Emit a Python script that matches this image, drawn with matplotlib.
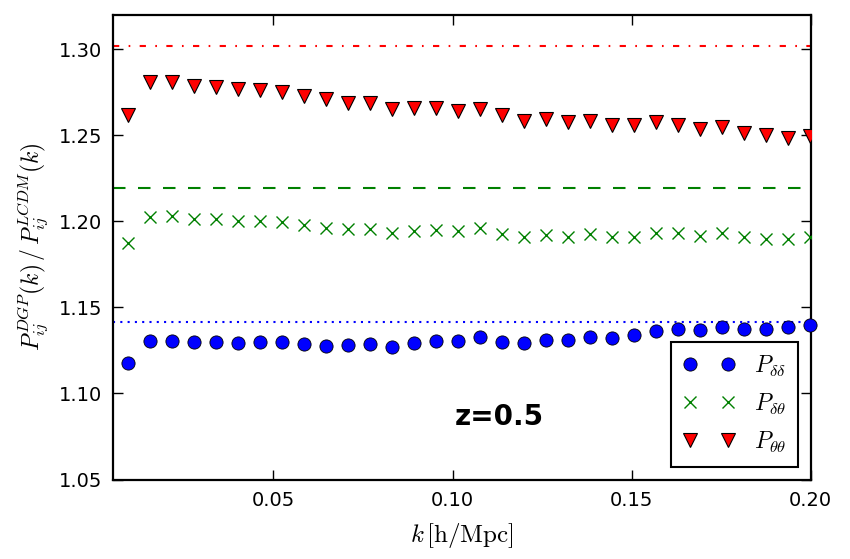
import matplotlib
matplotlib.use("Agg")
import matplotlib.pyplot as plt

# k values (h/Mpc)
k = [0.0095, 0.0156, 0.0218, 0.0279, 0.0341, 0.0402, 0.0463, 0.0525,
     0.0586, 0.0648, 0.0709, 0.0770, 0.0832, 0.0893, 0.0955, 0.1016,
     0.1077, 0.1139, 0.1200, 0.1262, 0.1323, 0.1384, 0.1446, 0.1507,
     0.1569, 0.1630, 0.1691, 0.1753, 0.1814, 0.1876, 0.1937, 0.1998]

# ratio DGP / LCDM
p_dd = [1.1178, 1.1303, 1.1306, 1.1300, 1.1300, 1.1293, 1.1300, 1.1298,
        1.1289, 1.1277, 1.1279, 1.1285, 1.1270, 1.1293, 1.1303, 1.1306,
        1.1325, 1.1300, 1.1295, 1.1308, 1.1308, 1.1329, 1.1323, 1.1337,
        1.1364, 1.1375, 1.1368, 1.1384, 1.1375, 1.1375, 1.1387, 1.1399]
p_dt = [1.1872, 1.2026, 1.2032, 1.2013, 1.2013, 1.2001, 1.2001, 1.1997,
        1.1978, 1.1959, 1.1953, 1.1953, 1.1930, 1.1945, 1.1949, 1.1943,
        1.1959, 1.1926, 1.1907, 1.1920, 1.1910, 1.1924, 1.1907, 1.1910,
        1.1933, 1.1933, 1.1916, 1.1930, 1.1907, 1.1897, 1.1897, 1.1910]
p_tt = [1.2615, 1.2807, 1.2810, 1.2787, 1.2781, 1.2768, 1.2762, 1.2752,
        1.2727, 1.2708, 1.2688, 1.2685, 1.2650, 1.2659, 1.2659, 1.2642,
        1.2650, 1.2615, 1.2582, 1.2593, 1.2578, 1.2580, 1.2559, 1.2559,
        1.2576, 1.2559, 1.2535, 1.2547, 1.2510, 1.2501, 1.2485, 1.2497]

# linear theory predictions
lin_dd = 1.1413
lin_dt = 1.2191
lin_tt = 1.3019

plt.rcParams['mathtext.fontset'] = 'cm'
plt.rcParams['font.family'] = 'DejaVu Sans'

fig = plt.figure(figsize=(8.5, 5.59), dpi=100)
ax = fig.add_axes([0.1333, 0.1422, 0.8205, 0.8315])

ax.axhline(lin_dd, color='blue', ls=(0, (1, 2.5)), lw=1.5)
ax.axhline(lin_dt, color='green', ls=(0, (6, 6)), lw=1.5)
ax.axhline(lin_tt, color='red', ls=(0, (3, 4.5, 0.8, 4.5)), lw=1.5)

ax.plot(k, p_dd, 'o', color='blue', mec='black', mew=0.6, ms=9.5,
        label=r'$P_{\delta\delta}$', clip_on=False, zorder=3)
ax.plot(k, p_dt, 'x', color='green', mew=1.0, ms=9,
        label=r'$P_{\delta\theta}$', zorder=3)
ax.plot(k, p_tt, 'v', color='red', mec='black', mew=0.8, ms=10,
        label=r'$P_{\theta\theta}$', zorder=3)

ax.set_xlim(0.0053, 0.2)
ax.set_ylim(1.05, 1.32)
ax.set_xticks([0.05, 0.10, 0.15, 0.20])
ax.set_xticklabels(['0.05', '0.10', '0.15', '0.20'])
ax.set_yticks([1.05, 1.10, 1.15, 1.20, 1.25, 1.30])
ax.set_yticklabels(['1.05', '1.10', '1.15', '1.20', '1.25', '1.30'])
ax.tick_params(direction='in', length=7, width=1, labelsize=14, pad=8,
               top=True, right=True)

for s in ax.spines.values():
    s.set_linewidth(1.6)

ax.set_xlabel(r'$k\,[\mathrm{h/Mpc}]$', fontsize=18, labelpad=8)
ax.set_ylabel(r'$P_{ij}^{DGP}(k)\,/\,P_{ij}^{LCDM}(k)$', fontsize=17, labelpad=6)

ax.text(0.1132, 1.0865, 'z=0.5', fontsize=20, fontweight='bold',
        ha='center', va='center')

leg = ax.legend(loc='lower right', numpoints=2, fontsize=17, fancybox=False,
                framealpha=1, edgecolor='black', borderaxespad=0.55,
                borderpad=0.5, handlelength=2.2, labelspacing=0.55)
leg.get_frame().set_linewidth(1.5)

fig.savefig('out.png', dpi=100)
